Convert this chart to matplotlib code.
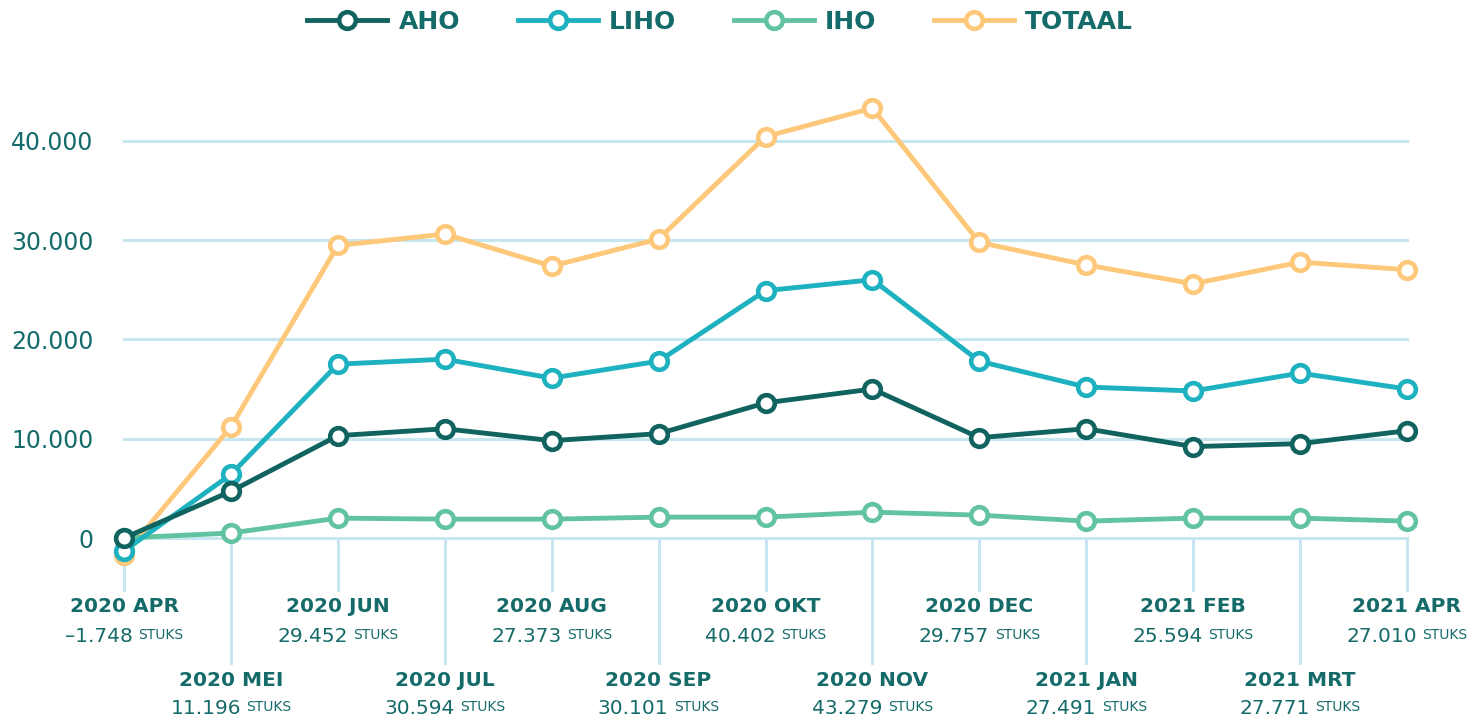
import matplotlib
matplotlib.use("Agg")
import matplotlib.pyplot as plt
from matplotlib.transforms import blended_transform_factory, offset_copy


# -----------------------------
# Data
# -----------------------------
months = [
    "2020 APR", "2020 MEI", "2020 JUN", "2020 JUL", "2020 AUG", "2020 SEP",
    "2020 OKT", "2020 NOV", "2020 DEC", "2021 JAN", "2021 FEB", "2021 MRT",
    "2021 APR",
]
aho = [0, 4700, 10300, 11000, 9800, 10500, 13600, 15000, 10100, 11000, 9200, 9500, 10800]
liho = [-1300, 6400, 17500, 18000, 16100, 17800, 24900, 26000, 17800, 15200, 14800, 16600, 15000]
iho = [0, 500, 2000, 1900, 1900, 2100, 2100, 2600, 2300, 1700, 2000, 2000, 1700]
totaal = [-1748, 11196, 29452, 30594, 27373, 30101, 40402, 43279, 29757, 27491, 25594, 27771, 27010]
y_ticks = [0, 10000, 20000, 30000, 40000]

# -----------------------------
# Style
# -----------------------------
TEXT = "#156b69"
GRID = "#c6e7ef"
COLORS = {
    "AHO": "#10635f",
    "LIHO": "#1eb1c0",
    "IHO": "#62c3a0",
    "TOTAAL": "#fec87a",
}
plt.rcParams["font.family"] = ["DejaVu Sans"]


def nl(v):
    s = f"{abs(v):,}".replace(",", ".")
    return ("–" + s) if v < 0 else s


W, H = 1483, 720
fig = plt.figure(figsize=(W / 100, H / 100), dpi=100)
ax = fig.add_axes([124 / W, (H - 538) / H, 1283 / W, 447 / H])

x = list(range(len(months)))
series = [("AHO", aho, 5), ("LIHO", liho, 4), ("IHO", iho, 3), ("TOTAAL", totaal, 2)]
handles = []
for name, vals, z in series:
    (h,) = ax.plot(
        x, vals, color=COLORS[name], lw=3.5, marker="o", ms=12,
        mfc="white", mec=COLORS[name], mew=3.3, zorder=z, clip_on=False,
        label=name,
    )
    handles.append(h)

ax.set_xlim(0, len(months) - 1)
ax.set_ylim(0, 45000)
ax.set_yticks(y_ticks)
ax.set_yticklabels([nl(v) for v in y_ticks])
ax.tick_params(axis="y", length=0, pad=22, labelsize=17, labelcolor=TEXT)
ax.set_xticks([])
for s in ax.spines.values():
    s.set_visible(False)
for v in y_ticks:
    ax.axhline(v, color=GRID, lw=2.2, zorder=1, clip_on=False)

# -----------------------------
# Month labels with leader lines
# -----------------------------
trans = blended_transform_factory(ax.transData, fig.transFigure)
renderer = fig.canvas.get_renderer()


def fy(py):
    return (H - py) / H


for i, (label, total) in enumerate(zip(months, totaal)):
    top = i % 2 == 0
    end_py = 590 if top else 663
    title_py = 606 if top else 680
    value_py = 636 if top else 708
    ax.plot([i, i], [fy(538), fy(end_py)], transform=trans, color=GRID,
            lw=2.2, clip_on=False, zorder=1)
    ax.text(i, fy(title_py), label, transform=trans, ha="center", va="center",
            fontsize=14.5, fontweight="bold", color=TEXT)

    num = ax.text(i, fy(value_py), nl(total), transform=trans, ha="left",
                  va="center", fontsize=14.5, color=TEXT)
    unit = ax.text(i, fy(value_py), "STUKS", transform=trans, ha="left",
                   va="center", fontsize=10, color=TEXT)
    w_num = num.get_window_extent(renderer).width * 72 / fig.dpi
    w_unit = unit.get_window_extent(renderer).width * 72 / fig.dpi
    gap = 4
    total_w = w_num + gap + w_unit
    num.set_transform(offset_copy(trans, fig=fig, x=-total_w / 2, y=0, units="points"))
    unit.set_transform(offset_copy(trans, fig=fig, x=-total_w / 2 + w_num + gap,
                                   y=0.5, units="points"))

# -----------------------------
# Legend
# -----------------------------
fig.legend(
    handles=handles, loc="center", bbox_to_anchor=(720 / W, fy(22)), ncol=4,
    frameon=False, handlelength=3.2, handletextpad=0.45, columnspacing=2.3,
    prop={"size": 18, "weight": "bold"}, labelcolor=TEXT,
)

fig.savefig("out.png", dpi=100)
